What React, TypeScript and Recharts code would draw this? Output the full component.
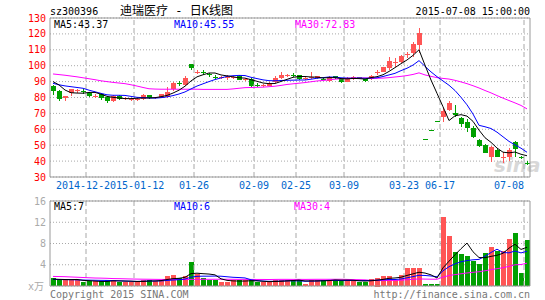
import React from "react";
import {
  ComposedChart,
  Bar,
  Line,
  XAxis,
  YAxis,
  CartesianGrid,
  ReferenceLine,
} from "recharts";

const UP = "#ff5555";
const DOWN = "#00a000";
const BORDER = "#999999";
const GRID = "#a8a8a8";
const MONO = "'DejaVu Sans Mono', 'Noto Sans CJK SC', monospace";
const CHAR_W = 6;
const BAND_W = 6;

const PRICE_MIN = 30;
const PRICE_TICKS = [30, 40, 50, 60, 70, 80, 90, 100, 110, 120, 130];
const VOL_TICKS = [0, 4, 8, 12, 16];

const dates = [
  "2014-12-19", "2014-12-22", "2014-12-23", "2014-12-24", "2014-12-25",
  "2014-12-26", "2014-12-29", "2014-12-30", "2014-12-31", "2015-01-05",
  "2015-01-06", "2015-01-07", "2015-01-08", "2015-01-09", "2015-01-12",
  "2015-01-13", "2015-01-14", "2015-01-15", "2015-01-16", "2015-01-19",
  "2015-01-20", "2015-01-21", "2015-01-22", "2015-01-23", "2015-01-26",
  "2015-01-27", "2015-01-28", "2015-01-29", "2015-01-30", "2015-02-02",
  "2015-02-03", "2015-02-04", "2015-02-05", "2015-02-06", "2015-02-09",
  "2015-02-10", "2015-02-11", "2015-02-12", "2015-02-13", "2015-02-16",
  "2015-02-17", "2015-02-25", "2015-02-26", "2015-02-27", "2015-03-02",
  "2015-03-03", "2015-03-04", "2015-03-05", "2015-03-06", "2015-03-09",
  "2015-03-10", "2015-03-11", "2015-03-12", "2015-03-13", "2015-03-16",
  "2015-03-17", "2015-03-18", "2015-03-19", "2015-03-20", "2015-03-23",
  "2015-03-24", "2015-03-25", "2015-06-12", "2015-06-15", "2015-06-16",
  "2015-06-17", "2015-06-18", "2015-06-19", "2015-06-23", "2015-06-24",
  "2015-06-25", "2015-06-26", "2015-06-29", "2015-06-30", "2015-07-01",
  "2015-07-02", "2015-07-03", "2015-07-06", "2015-07-07", "2015-07-08",
];

const tickDates = [
  "2014-12-29", "2015-01-12", "2015-01-26", "2015-02-09", "2015-02-25",
  "2015-03-09", "2015-03-23", "2015-06-17", "2015-07-08",
];
const tickLabels = [
  "2014-12-29", "2015-01-12", "01-26", "02-09", "02-25",
  "03-09", "03-23", "06-17", "07-08",
];

const open = [
  87.2, 84.0, 79.5, 82.6, 84.2, 84.4, 83.0, 80.6, 82.2, 80.5,
  78.0, 80.9, 79.0, 78.8, 78.6, 79.0, 81.4, 79.6, 80.0, 80.6,
  85.2, 89.1, 88.0, 101.0, 95.8, 96.0, 94.5, 93.0, 92.4, 92.5,
  92.6, 93.6, 91.4, 91.9, 88.0, 87.2, 87.4, 89.5, 92.1, 93.6,
  94.3, 94.0, 91.8, 92.2, 92.2, 91.8, 90.2, 93.4, 91.4, 90.0,
  91.6, 92.7, 91.6, 91.6, 95.6, 96.2, 98.4, 102.2, 102.5, 107.0,
  107.8, 113.0, 54.0, 59.6, 65.4, 67.5, 72.1, 70.0, 67.0, 64.8,
  60.6, 53.3, 50.1, 42.8, 47.0, 42.0, 42.8, 52.2, 42.6, 38.6,
];
const high = [
  88.0, 84.5, 81.2, 85.5, 85.5, 85.6, 83.5, 82.0, 82.6, 81.0,
  81.6, 81.5, 80.2, 79.8, 79.6, 82.5, 81.8, 80.6, 82.5, 86.8,
  89.5, 90.4, 93.7, 101.2, 97.2, 97.5, 95.5, 94.0, 93.5, 94.3,
  93.6, 94.0, 92.5, 92.3, 88.9, 88.5, 89.6, 93.8, 95.8, 94.8,
  95.5, 94.4, 92.8, 95.8, 93.8, 92.4, 93.6, 93.8, 91.8, 92.8,
  93.4, 93.2, 91.9, 94.0, 97.3, 99.4, 105.7, 104.6, 106.8, 108.8,
  115.1, 123.9, 54.0, 59.6, 65.4, 73.2, 78.0, 75.3, 67.9, 66.3,
  62.0, 53.8, 50.5, 49.5, 48.5, 45.9, 48.0, 52.8, 43.3, 39.8,
];
const low = [
  81.6, 77.8, 78.0, 80.9, 83.0, 82.4, 80.5, 79.5, 78.4, 76.4,
  76.9, 78.6, 78.5, 78.0, 77.8, 78.4, 78.8, 79.0, 79.6, 79.5,
  84.0, 87.5, 87.5, 97.3, 94.5, 94.0, 93.0, 91.8, 91.5, 91.3,
  91.8, 90.8, 90.6, 86.8, 86.6, 86.5, 87.0, 89.2, 91.5, 93.0,
  92.8, 91.2, 91.0, 91.6, 91.8, 90.8, 90.0, 91.6, 89.2, 89.6,
  91.2, 91.8, 89.6, 91.2, 94.2, 95.8, 97.3, 99.4, 102.0, 104.6,
  105.7, 107.8, 54.0, 59.6, 65.4, 64.8, 71.5, 67.9, 61.6, 58.5,
  54.5, 49.1, 44.9, 39.6, 42.5, 39.0, 40.0, 42.8, 41.5, 37.8,
];
const close = [
  84.3, 79.0, 80.8, 85.2, 84.6, 84.0, 81.2, 81.0, 79.5, 77.6,
  81.0, 79.2, 79.4, 79.1, 79.0, 81.6, 79.6, 80.1, 82.0, 83.4,
  88.9, 88.8, 92.5, 98.4, 96.2, 95.6, 94.1, 92.6, 92.7, 92.8,
  92.9, 91.0, 91.8, 87.5, 87.8, 87.6, 89.0, 92.3, 94.0, 94.0,
  94.0, 91.6, 92.2, 92.6, 93.5, 91.5, 92.8, 92.0, 89.5, 92.5,
  93.1, 92.4, 90.6, 93.7, 95.9, 99.0, 103.0, 102.6, 106.1, 107.3,
  113.5, 120.4, 54.0, 59.6, 65.4, 71.7, 76.7, 69.0, 63.3, 60.6,
  55.3, 49.3, 45.0, 48.7, 42.8, 42.3, 47.2, 47.4, 42.0, 38.0,
];

const ma5 = [
  90.0, 87.9, 84.7, 83.0, 82.8, 82.7, 83.2, 83.2, 82.1, 80.7,
  80.1, 79.7, 79.3, 79.3, 79.5, 79.7, 79.7, 79.9, 80.5, 81.3,
  82.8, 84.6, 87.1, 90.4, 93.0, 94.3, 95.4, 95.4, 94.2, 93.6,
  93.0, 92.4, 92.2, 91.2, 90.2, 89.1, 88.7, 88.8, 90.1, 91.4,
  92.7, 93.2, 93.2, 92.9, 92.8, 92.3, 92.5, 92.5, 91.9, 91.7,
  92.0, 91.9, 91.6, 92.5, 93.1, 94.3, 96.4, 98.8, 101.3, 103.6,
  106.5, 110.0, 100.3, 91.0, 82.6, 74.2, 65.5, 68.5, 69.2, 68.3,
  65.0, 59.5, 54.7, 51.8, 48.2, 45.6, 45.2, 45.7, 44.3, 43.37,
];
const ma10 = [
  88.9, 88.0, 87.3, 86.8, 86.3, 85.8, 84.6, 83.6, 82.6, 81.7,
  81.4, 81.4, 81.3, 80.7, 80.1, 79.9, 79.7, 79.6, 79.9, 80.4,
  81.2, 82.2, 83.5, 85.4, 87.2, 88.6, 90.0, 91.3, 92.3, 93.3,
  93.7, 93.9, 93.8, 92.7, 91.9, 91.1, 90.6, 90.5, 90.7, 90.8,
  90.9, 91.0, 91.0, 91.5, 92.1, 92.5, 92.9, 92.8, 92.4, 92.2,
  92.1, 92.2, 92.1, 92.2, 92.4, 93.2, 94.2, 95.2, 96.9, 98.4,
  100.4, 103.2, 99.6, 96.1, 93.1, 90.4, 87.7, 84.4, 80.1, 75.4,
  69.6, 62.5, 61.6, 60.5, 58.2, 55.3, 52.4, 50.2, 48.1, 45.55,
];
const ma30 = [
  94.8, 94.4, 94.0, 93.5, 93.0, 92.4, 91.8, 91.2, 90.5, 90.0,
  89.5, 89.1, 88.7, 88.0, 87.2, 86.3, 85.5, 85.3, 85.2, 85.2,
  85.2, 85.2, 85.2, 85.2, 85.2, 85.1, 85.1, 85.1, 85.1, 85.1,
  85.4, 85.8, 86.2, 86.3, 86.4, 86.5, 86.8, 87.1, 87.6, 88.2,
  88.6, 89.0, 89.4, 89.9, 90.4, 90.7, 91.1, 91.5, 91.8, 92.1,
  92.2, 92.3, 92.3, 92.1, 92.1, 92.2, 92.5, 92.9, 93.3, 93.8,
  94.5, 95.5, 94.2, 93.3, 92.5, 92.0, 91.6, 90.8, 89.8, 88.7,
  87.4, 86.0, 84.4, 82.9, 81.2, 79.6, 78.1, 76.6, 75.0, 72.83,
];

// volume, in 10k lots
const vol = [
  1.5, 1.2, 1.2, 1.2, 1.05, 0.67, 0.86, 0.86, 0.86, 1.05,
  1.2, 0.8, 0.75, 0.75, 0.75, 1.2, 1.2, 0.86, 1.05, 1.8,
  2.0, 1.56, 1.8, 4.5, 2.2, 1.56, 1.2, 1.05, 0.75, 0.75,
  1.05, 1.05, 1.05, 1.05, 0.67, 0.67, 0.67, 1.2, 1.2, 1.05,
  1.05, 1.05, 0.4, 1.2, 1.05, 1.2, 1.2, 1.05, 1.05, 1.05,
  1.05, 0.75, 0.75, 1.3, 1.6, 1.8, 1.8, 1.05, 2.0, 3.3,
  3.3, 3.3, 0.3, 0.3, 0.3, 12.9, 9.5, 6.4, 6.0, 5.6,
  4.7, 4.1, 6.2, 7.3, 6.6, 6.6, 8.9, 9.9, 2.4, 8.7,
];
const vma5 = [
  1.3, 1.25, 1.22, 1.2, 1.23, 1.06, 1.0, 0.93, 0.86, 0.86,
  0.97, 0.95, 0.93, 0.91, 0.85, 0.85, 0.93, 0.95, 1.01, 1.22,
  1.38, 1.45, 1.64, 2.33, 2.41, 2.32, 2.25, 2.1, 1.35, 1.06,
  0.96, 0.93, 0.93, 0.99, 0.97, 0.9, 0.82, 0.85, 0.88, 0.96,
  1.03, 1.11, 0.95, 0.95, 0.95, 0.98, 1.01, 1.14, 1.11, 1.11,
  1.08, 0.99, 0.93, 0.98, 1.09, 1.24, 1.45, 1.51, 1.65, 1.99,
  2.29, 2.59, 2.44, 2.1, 1.5, 3.42, 4.66, 5.88, 7.02, 8.08,
  6.44, 5.36, 5.32, 5.58, 5.78, 6.16, 7.12, 7.86, 6.88, 7.3,
];
const vma10 = [
  1.25, 1.22, 1.2, 1.18, 1.15, 1.12, 1.1, 1.08, 1.06, 1.05,
  1.02, 0.98, 0.93, 0.89, 0.86, 0.91, 0.94, 0.94, 0.96, 1.04,
  1.12, 1.19, 1.3, 1.67, 1.82, 1.85, 1.85, 1.87, 1.84, 1.74,
  1.64, 1.59, 1.52, 1.17, 1.02, 0.93, 0.88, 0.89, 0.94, 0.97,
  0.97, 0.97, 0.9, 0.92, 0.95, 1.01, 1.06, 1.05, 1.03, 1.03,
  1.03, 1.0, 1.04, 1.05, 1.1, 1.16, 1.22, 1.22, 1.32, 1.54,
  1.77, 2.02, 1.98, 1.88, 1.75, 2.86, 3.63, 4.16, 4.56, 4.79,
  4.93, 5.01, 5.6, 6.3, 6.93, 6.3, 6.24, 6.59, 6.23, 6.54,
];
const vma30 = [
  1.8, 1.78, 1.75, 1.7, 1.65, 1.6, 1.55, 1.5, 1.48, 1.45,
  1.4, 1.38, 1.35, 1.32, 1.3, 1.28, 1.27, 1.25, 1.24, 1.23,
  1.22, 1.22, 1.22, 1.24, 1.25, 1.26, 1.26, 1.27, 1.27, 1.27,
  1.26, 1.25, 1.25, 1.24, 1.23, 1.23, 1.22, 1.24, 1.25, 1.25,
  1.24, 1.25, 1.24, 1.25, 1.26, 1.26, 1.26, 1.27, 1.27, 1.24,
  1.21, 1.19, 1.15, 1.04, 1.02, 1.03, 1.05, 1.05, 1.09, 1.18,
  1.25, 1.33, 1.3, 1.28, 1.27, 1.67, 1.97, 2.14, 2.3, 2.45,
  2.58, 2.68, 2.87, 3.07, 3.26, 3.44, 3.7, 3.99, 4.04, 4.29,
];

const rows = dates.map((date, i) => ({
  date,
  open: open[i],
  high: high[i],
  low: low[i],
  close: close[i],
  ma5: ma5[i],
  ma10: ma10[i],
  ma30: ma30[i],
  vol: vol[i],
  vma5: vma5[i],
  vma10: vma10[i],
  vma30: vma30[i],
}));

const last = rows[rows.length - 1];

function Candle(props: any) {
  const { x, y, width, height, payload } = props;
  if (!payload || !isFinite(y)) return null;
  const color = payload.close > payload.open ? UP : DOWN;
  const k = height / (payload.high - PRICE_MIN);
  const py = (v: number) => y + (payload.high - v) * k;
  const cx = Math.floor(x + width / 2) + 0.5;
  const top = Math.round(py(Math.max(payload.open, payload.close)));
  const bot = Math.round(py(Math.min(payload.open, payload.close)));
  return (
    <g shapeRendering="crispEdges">
      <line
        x1={cx}
        x2={cx}
        y1={Math.round(py(payload.high))}
        y2={Math.round(py(payload.low))}
        stroke={color}
      />
      <rect x={cx - 2.5} y={top} width={5} height={Math.max(1, bot - top)} fill={color} />
    </g>
  );
}

function VolBar(props: any) {
  const { x, y, width, height, payload } = props;
  if (!payload) return null;
  const cx = Math.floor(x + width / 2);
  const color = payload.close > payload.open ? UP : DOWN;
  return (
    <rect
      x={cx - 2}
      y={Math.round(y)}
      width={5}
      height={Math.max(1, Math.round(height))}
      fill={color}
      shapeRendering="crispEdges"
    />
  );
}

// a label that would run into the next one is cut short, as the original does
function DateTick(props: any) {
  const { x, y, payload } = props;
  const idx = tickDates.indexOf(payload.value);
  if (idx < 0) return null;
  let label = tickLabels[idx];
  const isLast = idx === tickDates.length - 1;
  const lx = x - 3;
  const w = label.length * CHAR_W;
  const left = isLast ? lx - w : lx - w / 2;
  if (!isLast) {
    const next = tickLabels[idx + 1];
    const gap =
      (dates.indexOf(tickDates[idx + 1]) - dates.indexOf(tickDates[idx])) * BAND_W;
    const nextLeft =
      idx + 1 === tickDates.length - 1
        ? lx + gap - next.length * CHAR_W
        : lx + gap - (next.length * CHAR_W) / 2;
    const room = Math.floor((nextLeft - left) / CHAR_W);
    if (room < label.length) label = label.slice(0, room);
  }
  return (
    <text
      x={isLast ? lx : left}
      y={y + 10}
      textAnchor={isLast ? "end" : "start"}
      fill="#0066cc"
      fontSize={10}
      fontFamily={MONO}
    >
      {label}
    </text>
  );
}

const vLines = (
  <>
    {tickDates.map((d) => (
      <ReferenceLine
        key={d}
        x={d}
        position="start"
        stroke={GRID}
        strokeDasharray="5 3"
      />
    ))}
  </>
);

export default function App() {
  return (
    <div
      style={{
        position: "absolute",
        left: 0,
        top: 0,
        width: 545,
        height: 300,
        background: "#fff",
        fontFamily: MONO,
      }}
    >
      <svg
        width={545}
        height={300}
        style={{ position: "absolute", left: 0, top: 0 }}
        fontFamily={MONO}
        fontSize={10}
      >
        <text x={50} y={15} fill="#000">sz300396</text>
        <text x={120} y={15} fill="#000" fontSize={12}>迪瑞医疗 - 日K线图</text>
        <text x={530} y={15} fill="#000" textAnchor="end">2015-07-08 15:00:00</text>
        <text
          x={494}
          y={172}
          fill="#d8d8d8"
          fontSize={20}
          fontStyle="italic"
          fontWeight="bold"
          fontFamily="'DejaVu Sans', sans-serif"
        >
          sina
        </text>
      </svg>

      <div style={{ position: "absolute", left: 0, top: 0 }}>
        <ComposedChart
          width={545}
          height={197}
          data={rows}
          margin={{ top: 18, right: 15, bottom: 0, left: 0 }}
          barCategoryGap={0}
        >
          <CartesianGrid vertical={false} stroke={GRID} strokeDasharray="1 2" />
          {vLines}
          <XAxis
            dataKey="date"
            ticks={tickDates}
            interval={0}
            tickLine={false}
            tickSize={0}
            tickMargin={2}
            axisLine={{ stroke: BORDER }}
            tick={<DateTick />}
            height={20}
          />
          <YAxis
            domain={[PRICE_MIN, 130]}
            ticks={PRICE_TICKS}
            interval={0}
            width={50}
            tickLine={false}
            tickSize={0}
            tickMargin={4}
            axisLine={{ stroke: BORDER }}
            tick={{ fill: "#ff0000", fontSize: 10, fontFamily: MONO }}
            allowDataOverflow
          />
          <ReferenceLine y={130} stroke={BORDER} />
          <ReferenceLine x={dates[dates.length - 1]} position="end" stroke={BORDER} />
          <Bar
            dataKey={(d: any) => [PRICE_MIN, d.high]}
            shape={<Candle />}
            isAnimationActive={false}
          />
          <Line type="linear" dataKey="ma30" stroke="#ff00ff" strokeWidth={1} dot={false} isAnimationActive={false} />
          <Line type="linear" dataKey="ma10" stroke="#0000ff" strokeWidth={1} dot={false} isAnimationActive={false} />
          <Line type="linear" dataKey="ma5" stroke="#000000" strokeWidth={1} dot={false} isAnimationActive={false} />
        </ComposedChart>
      </div>

      <div style={{ position: "absolute", left: 0, top: 190 }}>
        <ComposedChart
          width={545}
          height={110}
          data={rows}
          margin={{ top: 11, right: 15, bottom: 13, left: 0 }}
          barCategoryGap={0}
        >
          <CartesianGrid vertical={false} stroke={GRID} strokeDasharray="1 2" />
          {vLines}
          <XAxis
            dataKey="date"
            tick={false}
            tickLine={false}
            axisLine={{ stroke: BORDER }}
            height={1}
          />
          <YAxis
            domain={[0, 16]}
            ticks={VOL_TICKS}
            interval={0}
            width={50}
            tickLine={false}
            tickSize={0}
            tickMargin={4}
            axisLine={{ stroke: BORDER }}
            tick={{ fill: "#aaaaaa", fontSize: 10, fontFamily: MONO }}
            tickFormatter={(v: number) => (v === 0 ? "" : String(v))}
          />
          <ReferenceLine y={16} stroke={BORDER} />
          <ReferenceLine x={dates[dates.length - 1]} position="end" stroke={BORDER} />
          <Bar dataKey="vol" shape={<VolBar />} isAnimationActive={false} />
          <Line type="linear" dataKey="vma30" stroke="#ff00ff" strokeWidth={1} dot={false} isAnimationActive={false} />
          <Line type="linear" dataKey="vma10" stroke="#0000ff" strokeWidth={1} dot={false} isAnimationActive={false} />
          <Line type="linear" dataKey="vma5" stroke="#000000" strokeWidth={1} dot={false} isAnimationActive={false} />
        </ComposedChart>
      </div>

      <svg
        width={545}
        height={300}
        style={{ position: "absolute", left: 0, top: 0, pointerEvents: "none" }}
        fontFamily={MONO}
        fontSize={10}
      >
        <text x={54} y={28} fill="#000">MA5:{last.ma5.toFixed(2)}</text>
        <text x={174} y={28} fill="#0000ff">MA10:{last.ma10.toFixed(2)}</text>
        <text x={295} y={28} fill="#ff00ff">MA30:{last.ma30.toFixed(2)}</text>
        <text x={54} y={210} fill="#000">MA5:{Math.floor(last.vma5)}</text>
        <text x={174} y={210} fill="#0000ff">MA10:{Math.floor(last.vma10)}</text>
        <text x={294} y={210} fill="#ff00ff">MA30:{Math.floor(last.vma30)}</text>
        <text x={44} y={290} fill="#aaaaaa" textAnchor="end">x万</text>
        <text x={50} y={298} fill="#777777">Copyright 2015 SINA.COM</text>
        <text x={530} y={298} fill="#777777" textAnchor="end">http://finance.sina.com.cn</text>
      </svg>
    </div>
  );
}
